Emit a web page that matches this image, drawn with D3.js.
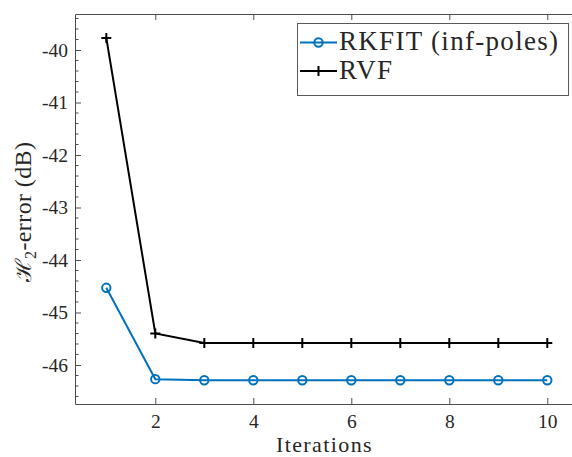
<!DOCTYPE html>
<html>
<head>
<meta charset="utf-8">
<script src="https://cdn.jsdelivr.net/npm/d3@7"></script>
<style>
  body { margin: 0; background: #fff; }
  svg { display: block; }
  text { font-family: "Liberation Serif", "DejaVu Serif", serif; fill: #262626; }
</style>
</head>
<body>
<svg id="chart" width="572" height="457"></svg>
<script>
'use strict';

// data
const iterations = [1, 2, 3, 4, 5, 6, 7, 8, 9, 10];
const rkfitValues = [-44.53, -46.27, -46.29, -46.29, -46.29, -46.29, -46.29, -46.29, -46.29, -46.29];
const rvfValues = [-39.77, -45.40, -45.58, -45.58, -45.58, -45.58, -45.58, -45.58, -45.58, -45.58];
const xTicks = [2, 4, 6, 8, 10];
const yTicks = [-46, -45, -44, -43, -42, -41, -40];
const seriesNames = ["RKFIT (inf-poles)", "RVF"];

const _blue = "#0072BD";
const _black = "#000000";
const _axisColor = "#4d4d4d";

const svg = d3.select("#chart");
const plotLeft = 75, plotTop = 14, plotBottom = 404, plotRight = 574;

const x = d3.scaleLinear().domain([0.361, 10.545]).range([plotLeft, plotRight]);
const y = d3.scaleLinear().domain([-46.743, -39.314]).range([plotBottom, plotTop]);

// minor ticks every 0.2 on y
const yMinor = d3.range(-46.6, -39.3, 0.2).map(function (v) { return Math.round(v * 10) / 10; })
    .filter(function (v) { return yTicks.indexOf(v) < 0; });

const gMinor = svg.append("g");
gMinor.selectAll("line").data(yMinor).enter().append("line")
    .attr("x1", plotLeft).attr("x2", plotLeft + 3.5)
    .attr("y1", function (d) { return y(d); }).attr("y2", function (d) { return y(d); })
    .attr("stroke", _axisColor).attr("stroke-width", 1);

// left axis
const yAxis = svg.append("g")
    .attr("transform", "translate(" + plotLeft + ",0)")
    .call(d3.axisLeft(y).tickValues(yTicks).tickSizeInner(-6).tickSizeOuter(0).tickPadding(7)
        .tickFormat(function (d) { return "-" + Math.abs(d); }));

// bottom axis
const xAxis = svg.append("g")
    .attr("transform", "translate(0," + plotBottom + ")")
    .call(d3.axisBottom(x).tickValues(xTicks).tickSizeInner(-6).tickSizeOuter(0).tickPadding(10));

// top box line with mirrored ticks
const topAxis = svg.append("g")
    .attr("transform", "translate(0," + plotTop + ")")
    .call(d3.axisTop(x).tickValues(xTicks).tickSizeInner(-6).tickSizeOuter(0).tickFormat(""));

[yAxis, xAxis, topAxis].forEach(function (g) {
    g.select(".domain").attr("stroke", _axisColor).attr("stroke-width", 1);
    g.selectAll(".tick line").attr("stroke", _axisColor).attr("stroke-width", 1);
    g.selectAll(".tick text")
        .attr("fill", "#262626")
        .style("font-family", "'Liberation Serif', serif")
        .style("font-size", "19.5px");
});

// series
const line = d3.line()
    .x(function (d) { return x(d[0]); })
    .y(function (d) { return y(d[1]); });

const rkfitPts = iterations.map(function (it, i) { return [it, rkfitValues[i]]; });
const rvfPts = iterations.map(function (it, i) { return [it, rvfValues[i]]; });

svg.append("path").datum(rkfitPts).attr("d", line)
    .attr("fill", "none").attr("stroke", _blue).attr("stroke-width", 2);
svg.append("path").datum(rvfPts).attr("d", line)
    .attr("fill", "none").attr("stroke", _black).attr("stroke-width", 2);

function drawCircle(g, cx, cy) {
    g.append("circle").attr("cx", cx).attr("cy", cy).attr("r", 4.2)
        .attr("fill", "none").attr("stroke", _blue).attr("stroke-width", 2);
}
function drawPlus(g, cx, cy) {
    g.append("path").attr("d", "M" + (cx - 5) + "," + cy + "H" + (cx + 5) + "M" + cx + "," + (cy - 5) + "V" + (cy + 5))
        .attr("stroke", _black).attr("stroke-width", 2);
}

const gMarks = svg.append("g");
rkfitPts.forEach(function (p) { drawCircle(gMarks, x(p[0]), y(p[1])); });
rvfPts.forEach(function (p) { drawPlus(gMarks, x(p[0]), y(p[1])); });

// axis labels
svg.append("text")
    .attr("x", (plotLeft + plotRight) / 2).attr("y", 452)
    .attr("text-anchor", "middle")
    .style("font-size", "22px")
    .style("letter-spacing", "1.4px")
    .text("Iterations");

const yLab = svg.append("text")
    .attr("transform", "translate(31,212) rotate(-90)")
    .attr("text-anchor", "middle")
    .style("font-size", "24px")
    .style("letter-spacing", "0.4px");
yLab.append("tspan").style("font-family", "'DejaVu Serif', serif").style("font-size", "22px").text("\u210B");
yLab.append("tspan").attr("dy", 5).style("font-size", "16px").text("2");
yLab.append("tspan").attr("dy", -5).text("-error (dB)");

// legend
const legend = svg.append("g");
legend.append("rect")
    .attr("x", 297.5).attr("y", 23.5).attr("width", 271).attr("height", 72)
    .attr("fill", "#fff").attr("stroke", "#5a5a5a").attr("stroke-width", 1);

const legendRowY = [42.5, 71];
legend.append("line").attr("x1", 300).attr("x2", 337).attr("y1", legendRowY[0]).attr("y2", legendRowY[0])
    .attr("stroke", _blue).attr("stroke-width", 2);
drawCircle(legend, 318.5, legendRowY[0]);
legend.append("line").attr("x1", 300).attr("x2", 337).attr("y1", legendRowY[1]).attr("y2", legendRowY[1])
    .attr("stroke", _black).attr("stroke-width", 2);
drawPlus(legend, 318.5, legendRowY[1]);

legend.selectAll("text.name").data(seriesNames).enter().append("text")
    .attr("class", "name")
    .attr("x", 339)
    .attr("y", function (d, i) { return legendRowY[i] + 7.5; })
    .style("font-size", "27px")
    .style("letter-spacing", "1.3px")
    .text(function (d) { return d; });
</script>
</body>
</html>
